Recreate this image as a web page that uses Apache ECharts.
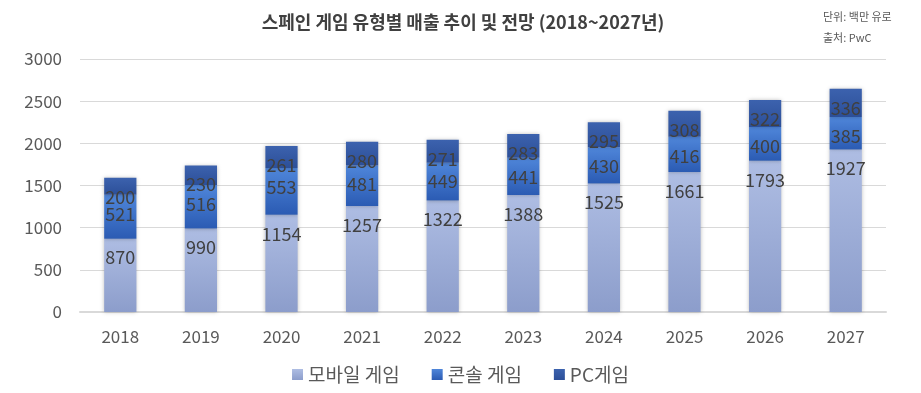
<!DOCTYPE html>
<html><head><meta charset="utf-8">
<script src="https://cdn.jsdelivr.net/npm/echarts@6/dist/echarts.min.js"></script>
<style>html,body{margin:0;padding:0;background:#fff}#c{width:921px;height:393px}</style>
</head><body><div id="c"></div>
<script>
const categories = ['2018','2019','2020','2021','2022','2023','2024','2025','2026','2027'];
const mobile = [870, 990, 1154, 1257, 1322, 1388, 1525, 1661, 1793, 1927];
const console_ = [521, 516, 553, 481, 449, 441, 430, 416, 400, 385];
const pc = [200, 230, 261, 280, 271, 283, 295, 308, 322, 336];
const seriesNames = ['모바일 게임', '콘솔 게임', 'PC게임'];
const yTicks = [0, 500, 1000, 1500, 2000, 2500, 3000];

const FONT = '"Noto Sans CJK KR", "Noto Sans", sans-serif';
function grad(top, bottom){
  return new echarts.graphic.LinearGradient(0,0,0,1,[{offset:0,color:top},{offset:1,color:bottom}]);
}
const labelCfg = {show:true, position:'insideTop', distance:10, color:'#404040', fontSize:18, fontFamily:FONT, lineHeight:18};
const chart = echarts.init(document.getElementById('c'));
chart.setOption({
  animation:false,
  backgroundColor:'#fff',
  title:[
    {text:'스페인 게임 유형별 매출 추이 및 전망 (2018~2027년)', left:458, top:8, textAlign:'center',
     textStyle:{fontSize:18, fontWeight:'bold', color:'#404040', fontFamily:FONT}},
    {text:'단위: 백만 유로', left:818, top:6, textStyle:{fontSize:11, fontWeight:'normal', color:'#595959', fontFamily:FONT}},
    {text:'출처: PwC', left:818, top:27, textStyle:{fontSize:11, fontWeight:'normal', color:'#595959', fontFamily:FONT}}
  ],
  grid:{left:80, right:35, top:59, bottom:81, containLabel:false},
  legend:{bottom:4, left:'center', itemWidth:11, itemHeight:11, itemGap:32, icon:'rect',
    textStyle:{fontSize:19, color:'#595959', fontFamily:FONT, padding:[0,0,0,0]}, data:seriesNames},
  xAxis:{type:'category', data:categories,
    axisLine:{lineStyle:{color:'#d9d9d9', width:2}}, axisTick:{show:false},
    axisLabel:{fontSize:17, color:'#595959', fontFamily:FONT, margin:16}},
  yAxis:{type:'value', min:yTicks[0], max:yTicks[yTicks.length-1], interval:500,
    axisLine:{show:false}, axisTick:{show:false},
    splitLine:{lineStyle:{color:'#d9d9d9', width:1}},
    axisLabel:{fontSize:17, color:'#595959', fontFamily:FONT, margin:18, formatter:v=>String(v)}},
  series:[
    {name:seriesNames[0], type:'bar', stack:'t', data:mobile, barWidth:'40%',
     itemStyle:{color:grad('#aebde3','#8c9dcb'), shadowBlur:4, shadowColor:'rgba(0,0,0,0.25)'},
     label:labelCfg},
    {name:seriesNames[1], type:'bar', stack:'t', data:console_, barWidth:'40%',
     itemStyle:{color:grad('#4f86da','#2b5bb3'), shadowBlur:4, shadowColor:'rgba(0,0,0,0.25)'},
     label:labelCfg},
    {name:seriesNames[2], type:'bar', stack:'t', data:pc, barWidth:'40%',
     itemStyle:{color:grad('#3c62ae','#2c4f98'), shadowBlur:4, shadowColor:'rgba(0,0,0,0.25)'},
     label:labelCfg}
  ]
});
</script></body></html>
